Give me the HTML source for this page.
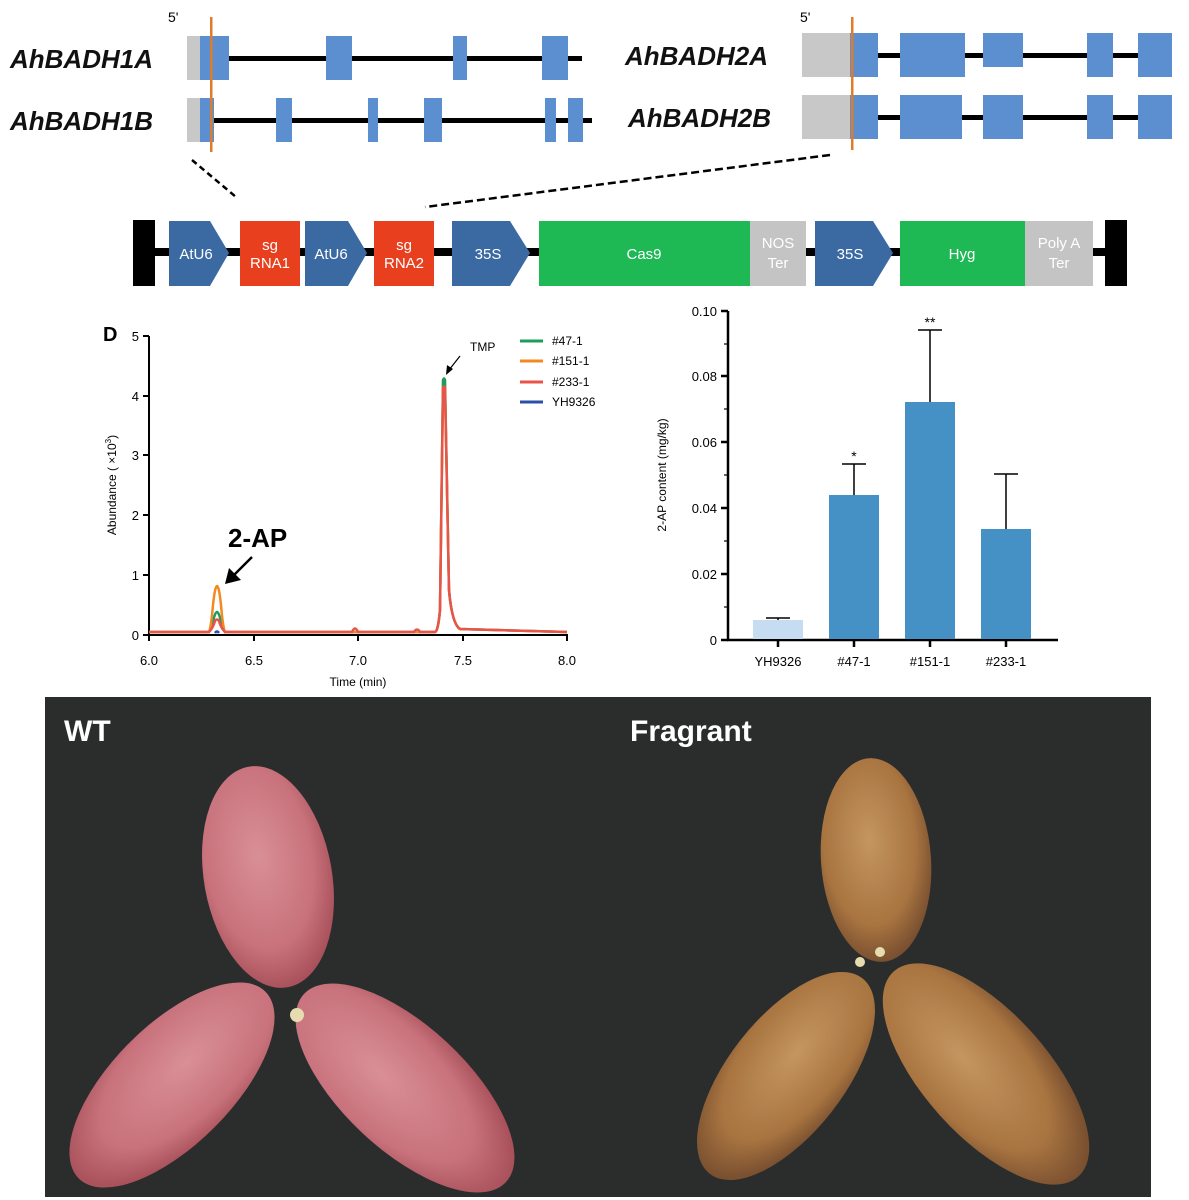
<!DOCTYPE html>
<html><head><meta charset="utf-8"><style>
html,body{margin:0;padding:0;background:#fff;}
svg{display:block;}
text{font-family:"Liberation Sans",sans-serif;}
</style></head><body>
<svg width="1189" height="1200" viewBox="0 0 1189 1200" xmlns="http://www.w3.org/2000/svg">
<defs>
<radialGradient id="pk" cx="45%" cy="40%" r="60%"><stop offset="0" stop-color="#d98f96"/><stop offset="0.7" stop-color="#c8727c"/><stop offset="1" stop-color="#a9525c"/></radialGradient>
<radialGradient id="br" cx="45%" cy="40%" r="60%"><stop offset="0" stop-color="#c49660"/><stop offset="0.7" stop-color="#a87440"/><stop offset="1" stop-color="#7a5030"/></radialGradient>
</defs>
<g fill="#5b8fcf">
<text x="168" y="22" font-size="14" fill="#000">5'</text>
<text x="800" y="22" font-size="14" fill="#000">5'</text>
<g font-size="26" font-weight="bold" font-style="italic" fill="#111">
<text x="10" y="68">AhBADH1A</text><text x="10" y="130">AhBADH1B</text>
<text x="625" y="65">AhBADH2A</text><text x="628" y="127">AhBADH2B</text>
</g>
<rect x="200" y="56" width="382" height="5" fill="#000"/>
<rect x="187" y="36" width="14" height="44" fill="#c8c8c8"/>
<rect x="200" y="36" width="29" height="44"/><rect x="326" y="36" width="26" height="44"/><rect x="453" y="36" width="14" height="44"/><rect x="542" y="36" width="26" height="44"/>
<rect x="200" y="118" width="392" height="5" fill="#000"/>
<rect x="187" y="98" width="14" height="44" fill="#c8c8c8"/>
<rect x="200" y="98" width="14" height="44"/><rect x="276" y="98" width="16" height="44"/><rect x="368" y="98" width="10" height="44"/><rect x="424" y="98" width="18" height="44"/><rect x="545" y="98" width="11" height="44"/><rect x="568" y="98" width="15" height="44"/>
<rect x="210" y="17" width="2.5" height="135" fill="#e07b2a"/>
<rect x="850" y="53" width="322" height="5" fill="#000"/>
<rect x="802" y="33" width="48" height="44" fill="#c8c8c8"/>
<rect x="850" y="33" width="28" height="44"/><rect x="900" y="33" width="65" height="44"/><rect x="983" y="33" width="40" height="34"/><rect x="1087" y="33" width="26" height="44"/><rect x="1138" y="33" width="34" height="44"/>
<rect x="850" y="115" width="322" height="5" fill="#000"/>
<rect x="802" y="95" width="48" height="44" fill="#c8c8c8"/>
<rect x="850" y="95" width="28" height="44"/><rect x="900" y="95" width="62" height="44"/><rect x="983" y="95" width="40" height="44"/><rect x="1087" y="95" width="26" height="44"/><rect x="1138" y="95" width="34" height="44"/>
<rect x="851" y="17" width="2.5" height="133" fill="#e07b2a"/>
</g>
<line x1="192" y1="160" x2="236" y2="197" stroke="#000" stroke-width="2.5" stroke-dasharray="6,4"/>
<line x1="830" y1="155" x2="425" y2="207" stroke="#000" stroke-width="2.5" stroke-dasharray="8,4"/>
<rect x="140" y="248" width="980" height="8" fill="#000"/>
<rect x="133" y="220" width="22" height="66" fill="#000"/>
<rect x="1105" y="220" width="22" height="66" fill="#000"/>
<g fill="#3b6aa3">
<polygon points="169,221 210,221 229,253 210,286 169,286"/>
<polygon points="305,221 348,221 367,253 348,286 305,286"/>
<polygon points="452,221 510,221 530,253 510,286 452,286"/>
<polygon points="815,221 873,221 893,253 873,286 815,286"/>
</g>
<rect x="240" y="221" width="60" height="65" fill="#e8401f"/>
<rect x="374" y="221" width="60" height="65" fill="#e8401f"/>
<rect x="539" y="221" width="211" height="65" fill="#1eb955"/>
<rect x="900" y="221" width="125" height="65" fill="#1eb955"/>
<rect x="750" y="221" width="56" height="65" fill="#c4c4c4"/>
<rect x="1025" y="221" width="68" height="65" fill="#c4c4c4"/>
<g fill="#fff" font-size="15" text-anchor="middle">
<text x="196" y="259">AtU6</text><text x="331" y="259">AtU6</text><text x="488" y="259">35S</text><text x="850" y="259">35S</text>
<text x="644" y="259">Cas9</text><text x="962" y="259">Hyg</text>
<text x="270" y="250">sg</text><text x="270" y="268">RNA1</text>
<text x="404" y="250">sg</text><text x="404" y="268">RNA2</text>
<text x="778" y="248">NOS</text><text x="778" y="268">Ter</text>
<text x="1059" y="248">Poly A</text><text x="1059" y="268">Ter</text>
</g>
<text x="103" y="341" font-size="20" font-weight="bold">D</text>
<g stroke="#000" stroke-width="2">
<line x1="149" y1="336" x2="149" y2="635"/><line x1="148" y1="635" x2="568" y2="635"/>
<line x1="143" y1="336" x2="149" y2="336"/><line x1="143" y1="396" x2="149" y2="396"/><line x1="143" y1="455" x2="149" y2="455"/><line x1="143" y1="515" x2="149" y2="515"/><line x1="143" y1="575" x2="149" y2="575"/><line x1="143" y1="635" x2="149" y2="635"/>
<line x1="149" y1="635" x2="149" y2="641"/><line x1="254" y1="635" x2="254" y2="641"/><line x1="358" y1="635" x2="358" y2="641"/><line x1="463" y1="635" x2="463" y2="641"/><line x1="567" y1="635" x2="567" y2="641"/>
</g>
<g font-size="13" text-anchor="end"><text x="139" y="341">5</text><text x="139" y="401">4</text><text x="139" y="460">3</text><text x="139" y="520">2</text><text x="139" y="580">1</text><text x="139" y="640">0</text></g>
<g font-size="13" text-anchor="middle"><text x="149" y="665">6.0</text><text x="254" y="665">6.5</text><text x="358" y="665">7.0</text><text x="463" y="665">7.5</text><text x="567" y="665">8.0</text>
<text x="358" y="686" font-size="12">Time (min)</text></g>
<text transform="translate(116,485) rotate(-90)" font-size="12" text-anchor="middle">Abundance (  ×10<tspan dy="-5" font-size="8">3</tspan><tspan dy="5">)</tspan></text>
<g fill="none" stroke-width="2.5">
<path d="M149,632 L209,632 Q211,630 213,622 Q215,612 217,612 Q219,612 221,622 Q223,630 225,632 L435,632 Q438,632 440,610 L443,380 Q444,377 445,380 L449,590 Q452,624 460,629 L567,632" stroke="#1e9c5c"/>
<path d="M149,632 L209,632 Q211,628 213,605 Q215,586 217,586 Q219,586 221,605 Q223,628 225,632 L435,632 Q438,632 440,610 L443,388 Q444,385 445,388 L449,590 Q452,624 460,629 L567,632" stroke="#f28a21"/>
<path d="M149,632 L209,632 Q213,628 215,621 Q217,618 219,621 Q221,628 225,632 L352,632 Q355,625 358,632 L414,632 Q417,627 420,632 L435,632 Q438,632 440,610 L443,388 Q444,385 445,388 L449,590 Q452,624 460,629 L567,632" stroke="#e8534a"/>
<path d="M215,633 Q217,630 219,633" stroke="#2a4fa8"/>
</g>
<g font-size="12"><line x1="520" y1="341" x2="543" y2="341" stroke="#1e9c5c" stroke-width="3"/><text x="552" y="345">#47-1</text>
<line x1="520" y1="361" x2="543" y2="361" stroke="#f28a21" stroke-width="3"/><text x="552" y="365">#151-1</text>
<line x1="520" y1="382" x2="543" y2="382" stroke="#e8534a" stroke-width="3"/><text x="552" y="386">#233-1</text>
<line x1="520" y1="402" x2="543" y2="402" stroke="#2a4fa8" stroke-width="3"/><text x="552" y="406">YH9326</text></g>
<text x="470" y="351" font-size="12">TMP</text>
<line x1="460" y1="356" x2="449" y2="370" stroke="#000" stroke-width="1.2"/><polygon points="446,375 447,365 453,369" fill="#000"/>
<text x="228" y="547" font-size="26" font-weight="bold">2-AP</text>
<line x1="252" y1="557" x2="234" y2="575" stroke="#000" stroke-width="2.5"/><polygon points="225,584 229,568 241,580" fill="#000"/>
<g stroke="#000" stroke-width="2.5">
<line x1="728" y1="311" x2="728" y2="640"/><line x1="727" y1="640" x2="1058" y2="640"/>
<line x1="721" y1="311" x2="728" y2="311"/><line x1="721" y1="376" x2="728" y2="376"/><line x1="721" y1="442" x2="728" y2="442"/><line x1="721" y1="508" x2="728" y2="508"/><line x1="721" y1="574" x2="728" y2="574"/><line x1="721" y1="640" x2="728" y2="640"/>
<line x1="778" y1="640" x2="778" y2="647"/><line x1="854" y1="640" x2="854" y2="647"/><line x1="930" y1="640" x2="930" y2="647"/><line x1="1006" y1="640" x2="1006" y2="647"/>
</g>
<g stroke="#000" stroke-width="1.2">
<line x1="724" y1="344" x2="728" y2="344"/><line x1="724" y1="409" x2="728" y2="409"/><line x1="724" y1="475" x2="728" y2="475"/><line x1="724" y1="541" x2="728" y2="541"/><line x1="724" y1="607" x2="728" y2="607"/>
</g>
<g font-size="13" text-anchor="end"><text x="717" y="316">0.10</text><text x="717" y="381">0.08</text><text x="717" y="447">0.06</text><text x="717" y="513">0.04</text><text x="717" y="579">0.02</text><text x="717" y="645">0</text></g>
<g font-size="13" text-anchor="middle"><text x="778" y="666">YH9326</text><text x="854" y="666">#47-1</text><text x="930" y="666">#151-1</text><text x="1006" y="666">#233-1</text></g>
<text transform="translate(666,475) rotate(-90)" font-size="12" text-anchor="middle">2-AP content (mg/kg)</text>
<rect x="753" y="620" width="50" height="19" fill="#c6dcf1"/>
<rect x="829" y="495" width="50" height="144" fill="#4591c6"/>
<rect x="905" y="402" width="50" height="237" fill="#4591c6"/>
<rect x="981" y="529" width="50" height="110" fill="#4591c6"/>
<g stroke="#000" stroke-width="1.5">
<line x1="778" y1="618" x2="778" y2="620"/><line x1="766" y1="618" x2="790" y2="618"/>
<line x1="854" y1="464" x2="854" y2="495"/><line x1="842" y1="464" x2="866" y2="464"/>
<line x1="930" y1="330" x2="930" y2="402"/><line x1="918" y1="330" x2="942" y2="330"/>
<line x1="1006" y1="474" x2="1006" y2="529"/><line x1="994" y1="474" x2="1018" y2="474"/>
</g>
<text x="854" y="461" font-size="14" text-anchor="middle">*</text>
<text x="930" y="327" font-size="14" text-anchor="middle">**</text>
<rect x="45" y="697" width="1106" height="500" fill="#2b2d2d"/>
<text x="64" y="741" font-size="30" font-weight="bold" fill="#fff">WT</text>
<text x="630" y="741" font-size="30" font-weight="bold" fill="#fff">Fragrant</text>
<ellipse cx="268" cy="877" rx="64" ry="112" transform="rotate(-10 268 877)" fill="url(#pk)"/>
<ellipse cx="172" cy="1085" rx="60" ry="132" transform="rotate(45 172 1085)" fill="url(#pk)"/>
<ellipse cx="405" cy="1088" rx="62" ry="138" transform="rotate(-47 405 1088)" fill="url(#pk)"/>
<ellipse cx="876" cy="860" rx="55" ry="102" transform="rotate(-4 876 860)" fill="url(#br)"/>
<ellipse cx="786" cy="1076" rx="58" ry="124" transform="rotate(38 786 1076)" fill="url(#br)"/>
<ellipse cx="986" cy="1074" rx="62" ry="138" transform="rotate(-42 986 1074)" fill="url(#br)"/>
<circle cx="297" cy="1015" r="7" fill="#e6dcb0"/><circle cx="880" cy="952" r="5" fill="#e6dcb0"/><circle cx="860" cy="962" r="5" fill="#e6dcb0"/>
</svg>
</body></html>
